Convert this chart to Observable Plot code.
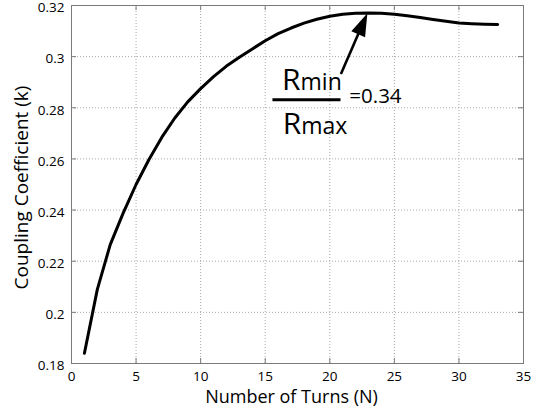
<!DOCTYPE html>
<html><head><meta charset="utf-8">
<script src="https://cdn.jsdelivr.net/npm/d3@7"></script>
<script src="https://cdn.jsdelivr.net/npm/@observablehq/plot@0.6"></script>
<style>body{margin:0;background:#fff;} svg{display:block}</style>
</head><body><div id="chart"></div>
<script>
const turns = [1,2,3,4,5,6,7,8,9,10,11,12,13,14,15,16,17,18,19,20,21,22,23,24,25,26,27,28,29,30,31,32,33];
const coupling = [0.1840,0.2090,0.2265,0.2388,0.2500,0.2598,0.2685,0.2760,0.2823,0.2875,0.2922,0.2963,0.2998,0.3030,0.3062,0.3090,0.3112,0.3131,0.3146,0.3158,0.3166,0.3170,0.3171,0.3170,0.3166,0.3160,0.3153,0.3145,0.3138,0.3132,0.3129,0.3127,0.3126];
const xTicks = [0,5,10,15,20,25,30,35];
const yTicks = [0.18,0.2,0.22,0.24,0.26,0.28,0.3,0.32];
const xLabel = "Number of Turns (N)";
const yLabel = "Coupling Coefficient (k)";
// annotation (data coordinates)
const arrowTail = [20.9, 0.2930];
const arrowTip = [22.95, 0.3168];
const numText = ["R", "min"];
const denText = ["R", "max"];
const numPos = [16.34, 0.2868];
const denPos = [16.39, 0.2695];
const barFrom = [15.56, 0.2831];
const barTo = [20.83, 0.2831];
const ratioText = "=0.34";
const ratioPos = [21.55, 0.2816];

const data = turns.map((n, i) => ({n, k: coupling[i]}));
const grid = {stroke: "#a8a8a8", strokeOpacity: 1, strokeDasharray: "1,2"};
const tickColor = "#7a7a7a";

const chart = Plot.plot({
  width: 543, height: 411,
  marginLeft: 71, marginRight: 20, marginTop: 5, marginBottom: 48,
  style: {fontFamily: "'Open Sans', sans-serif", fontSize: "13.5px", color: "#000", background: "#fff", overflow: "visible"},
  x: {domain: [0, 35], label: null},
  y: {domain: [0.18, 0.32], label: null},
  marks: [
    Plot.gridX(xTicks, grid),
    Plot.gridY(yTicks, grid),
    Plot.ruleX(xTicks, {x: d => d, insetTop: 353, stroke: tickColor}),
    Plot.ruleX(xTicks, {x: d => d, insetBottom: 353, stroke: tickColor}),
    Plot.ruleY(yTicks, {y: d => d, insetLeft: 447, stroke: tickColor}),
    Plot.ruleY(yTicks, {y: d => d, insetRight: 447, stroke: tickColor}),
    Plot.frame({stroke: tickColor}),
    Plot.axisX(xTicks, {tickSize: 0, tickPadding: 8, tickFormat: d => String(d), label: null}),
    Plot.axisY(yTicks, {tickSize: 0, tickPadding: 7, dy: 2.5, tickFormat: d => String(d), label: null}),
    Plot.text([xLabel], {text: d => d, frameAnchor: "bottom", textAnchor: "middle", lineAnchor: "bottom", dy: 39, dx: -6, fontSize: 18}),
    Plot.text([yLabel], {text: d => d, frameAnchor: "left", textAnchor: "middle", rotate: -90, lineAnchor: "middle", dx: -50, dy: 3, fontSize: 19}),
    Plot.line(data, {x: "n", y: "k", stroke: "black", strokeWidth: 3, strokeLinejoin: "round"}),
    Plot.link([{a: barFrom, b: barTo}], {x1: d => d.a[0], y1: d => d.a[1], x2: d => d.b[0], y2: d => d.b[1], stroke: "black", strokeWidth: 3})
  ]
});

// annotation drawn with the plot's own scales
const xs = chart.scale("x"), ys = chart.scale("y");
const px = p => [xs.apply(p[0]), ys.apply(p[1])];
const svg = d3.select(chart);
const g = svg.append("g").attr("font-family", "'Open Sans', sans-serif").attr("fill", "black").attr("text-anchor", "start");
const [tx, ty] = px(arrowTip), [sx, sy] = px(arrowTail);
const len = Math.hypot(tx - sx, ty - sy), ux = (tx - sx) / len, uy = (ty - sy) / len;
const L = 23, W = 7.5;
const bx = tx - L * ux, by = ty - L * uy;
g.append("line").attr("x1", sx).attr("y1", sy).attr("x2", bx + 4 * ux).attr("y2", by + 4 * uy)
  .attr("stroke", "black").attr("stroke-width", 2.6);
g.append("path").attr("d", `M${tx},${ty}L${bx - W * uy},${by + W * ux}L${bx + W * uy},${by - W * ux}Z`);

function frac(parts, pos) {
  const [x, y] = px(pos);
  const t = g.append("text").attr("x", x).attr("y", y);
  t.append("tspan").attr("font-size", 30).text(parts[0]);
  t.append("tspan").attr("font-size", 23).text(parts[1]);
}
frac(numText, numPos);
frac(denText, denPos);
const [rx, ry] = px(ratioPos);
g.append("text").attr("x", rx).attr("y", ry).attr("font-size", 20.5).text(ratioText);

document.getElementById("chart").appendChild(chart);
</script>
</body></html>
